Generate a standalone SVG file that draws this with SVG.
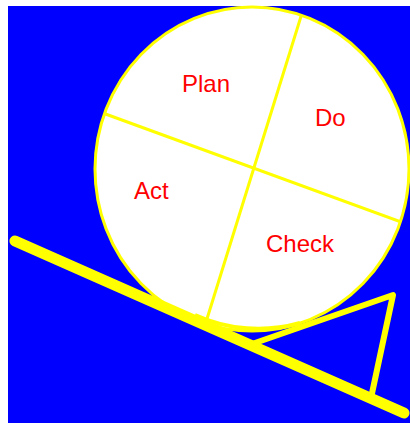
<svg xmlns="http://www.w3.org/2000/svg" width="410" height="423" viewBox="0 0 410 423">
<style>
.bg{fill:#0000ff}
.wheel{fill:#ffffff;stroke:#ffff00;stroke-width:3}
.div{stroke:#ffff00;stroke-width:3;fill:none;stroke-linecap:round}
.ramp{stroke:#ffff00;fill:none;stroke-linecap:round;stroke-linejoin:round}
.lbl{font-family:"Liberation Sans",Arial,sans-serif;font-size:24px;fill:#ff0000}
</style>
<defs>
<clipPath id="wheelClip"><ellipse cx="252" cy="169" rx="157" ry="162"/></clipPath>
</defs>
<rect x="0" y="0" width="410" height="423" fill="#ffffff"/>
<rect class="bg" x="8" y="6" width="402" height="417"/>
<g id="wheel">
<ellipse class="wheel" cx="252" cy="169" rx="157" ry="162"/>
<path d="M195,315 A157,162 0 0 0 300,323" fill="none" stroke="#ffff00" stroke-width="4"/>
</g>
<g id="connectors" clip-path="url(#wheelClip)">
<line class="div" x1="303" y1="10" x2="206" y2="322"/>
<line class="div" x1="100" y1="112" x2="412" y2="226"/>
</g>
<g id="ramp">
<line class="ramp" x1="15" y1="241" x2="404" y2="413" stroke-width="11"/>
<polyline class="ramp" points="252,344 393,295 371,398" stroke-width="6"/>
</g>
<g id="plan"><text class="lbl" x="182" y="92">Plan</text></g>
<g id="do"><text class="lbl" x="315" y="126">Do</text></g>
<g id="act"><text class="lbl" x="134" y="199">Act</text></g>
<g id="check"><text class="lbl" x="266" y="252">Check</text></g>
</svg>
